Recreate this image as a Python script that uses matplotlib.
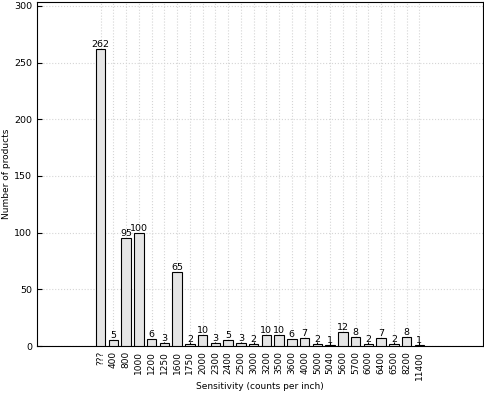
import matplotlib
matplotlib.use("Agg")
import matplotlib.pyplot as plt

categories = ["???", "400", "800", "1000", "1200", "1250", "1600", "1750", "2000",
              "2300", "2400", "2500", "3000", "3200", "3500", "3600", "4000", "5000",
              "5040", "5600", "5700", "6000", "6400", "6500", "8200", "11400"]
counts = [262, 5, 95, 100, 6, 3, 65, 2, 10, 3, 5, 3, 2, 10, 10, 6, 7, 2, 1,
          12, 8, 2, 7, 2, 8, 1]

fig = plt.figure(figsize=(4.84, 3.95), dpi=100)
ax = fig.add_axes([0.0764, 0.124, 0.9216, 0.871])

x = range(len(categories))
bars = ax.bar(x, counts, width=0.75, color="#e5e5e5", edgecolor="black",
              linewidth=0.8, zorder=3)
for b, v in zip(bars, counts):
    ax.text(b.get_x() + b.get_width() / 2, v, str(v), ha="center", va="bottom",
            fontsize=6.8)

ax.set_xticks(list(x))
ax.set_xticklabels(categories, rotation=90, fontsize=6.5)
ax.set_xlim(-5, 30)
ax.set_ylim(0, 303.5)
ax.set_yticks(range(0, 301, 50))
ax.tick_params(axis="y", labelsize=6.8, direction="in")
ax.tick_params(axis="x", direction="in", length=3)
ax.grid(True, linestyle=":", color="#d5d5d5", linewidth=0.8, zorder=0)
ax.set_axisbelow(True)
ax.set_xlabel("Sensitivity (counts per inch)", fontsize=6.5)
ax.set_ylabel("Number of products", fontsize=6.5)
ax.xaxis.set_label_coords(0.5, -0.105)
ax.yaxis.set_label_coords(-0.058, 0.5)

fig.savefig("out.png", dpi=100)
